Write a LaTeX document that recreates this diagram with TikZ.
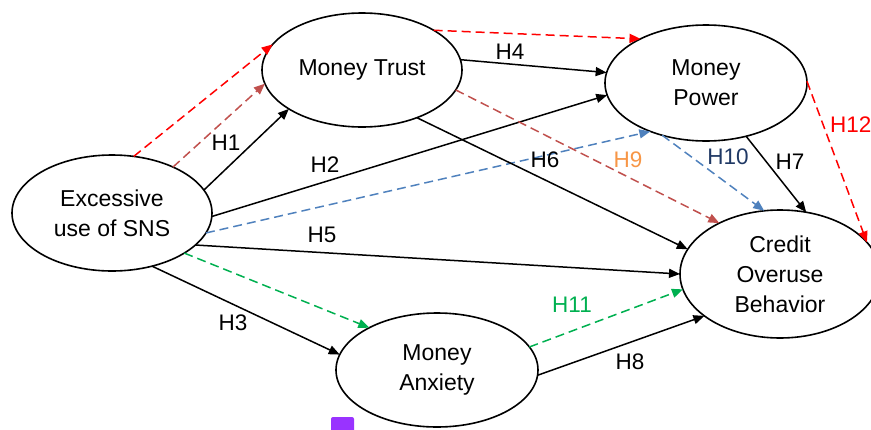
\documentclass[tikz,border=0pt]{standalone}
\usepackage{fontspec}
\setmainfont{Liberation Sans}
\usetikzlibrary{shapes.geometric,arrows.meta}
\definecolor{cred}{HTML}{FF0000}
\definecolor{cbrown}{HTML}{C0504D}
\definecolor{cblue}{HTML}{4F81BD}
\definecolor{cgreen}{HTML}{00B050}
\definecolor{corange}{HTML}{F79646}
\definecolor{cnavy}{HTML}{1F3864}
\definecolor{cpurple}{HTML}{9933FF}
\tikzset{
 var/.style={draw, ellipse, line width=1.6pt, inner sep=0pt, outer sep=0pt, align=center, font=\fontsize{23}{30}\selectfont},
 hyp/.style={-{Triangle[length=11pt,width=9pt]}, line width=1.5pt},
 dsh/.style={hyp, dash pattern=on 9pt off 5pt},
 lab/.style={font=\fontsize{22.5}{26}\selectfont, inner sep=0pt}
}
\begin{document}
\begin{tikzpicture}[x=1pt,y=-1pt]
\useasboundingbox (0,0) rectangle (871,429);
\node[var, minimum width=200pt, minimum height=116pt] (sns) at (112,213) {Excessive\\use of SNS};
\node[var, minimum width=200pt, minimum height=114pt] (mt) at (362,70) {Money Trust};
\node[var, minimum width=202pt, minimum height=116pt] (mp) at (706,83) {Money\\Power};
\node[var, minimum width=200pt, minimum height=128pt] (cr) at (780,274) {Credit\\Overuse\\Behavior};
\node[var, minimum width=202pt, minimum height=114pt] (ma) at (437,370) {Money\\Anxiety};

% from SNS
\draw[hyp] (sns.14) -- (mt.208);
\draw[dsh, cred] (sns.69) -- (mt.164);
\draw[dsh, cbrown] (sns.37) -- (mt.188);
\draw[hyp] (sns.-2) -- (mp.187);
\draw[dsh, cblue] (sns.-12) -- (mp.221);
\draw[hyp] (sns.-21) -- (cr.180);
\draw[dsh, cgreen] (sns.-29) -- (ma.148);
\draw[hyp] (sns.-53) -- (ma.171);
% from Money Trust
\draw[dsh, cred] (mt.29) -- (mp.146);
\draw[hyp] (mt.6) -- (mp.174);
\draw[dsh, cbrown] (mt.-12) -- (cr.140);
\draw[hyp] (mt.-41) -- (cr.165);
% from Money Power
\draw[dsh, cblue] (mp.230) -- (cr.104);
\draw[hyp] (mp.-53) -- (cr.67);
\draw[dsh, cred] (mp.1) -- (cr.20);
% from Money Anxiety
\draw[dsh, cgreen] (ma.14) -- (cr.189);
\draw[hyp] (ma.-3) -- (cr.209);

% labels
\node[lab] (l1) at (226,143) {H1};
\node[lab] (l2) at (325,165) {H2};
\node[lab] (l3) at (233,323) {H3};
\node[lab] (l4) at (510,52) {H4};
\node[lab] (l5) at (322,235) {H5};
\node[lab] (l6) at (545,160) {H6};
\node[lab] (l7) at (790,162) {H7};
\node[lab] (l8) at (630,362) {H8};
\node[lab, text=corange] (l9) at (628,160) {H9};
\node[lab, text=cnavy] (l10) at (728,157) {H10};
\node[lab, text=cgreen] (l11) at (572,305) {H11};
\node[lab, text=cred, anchor=west] (l12) at (830,125) {H12};

% badge
\fill[cpurple, rounded corners=2pt] (331,417) rectangle (354,434);
\end{tikzpicture}
\end{document}
